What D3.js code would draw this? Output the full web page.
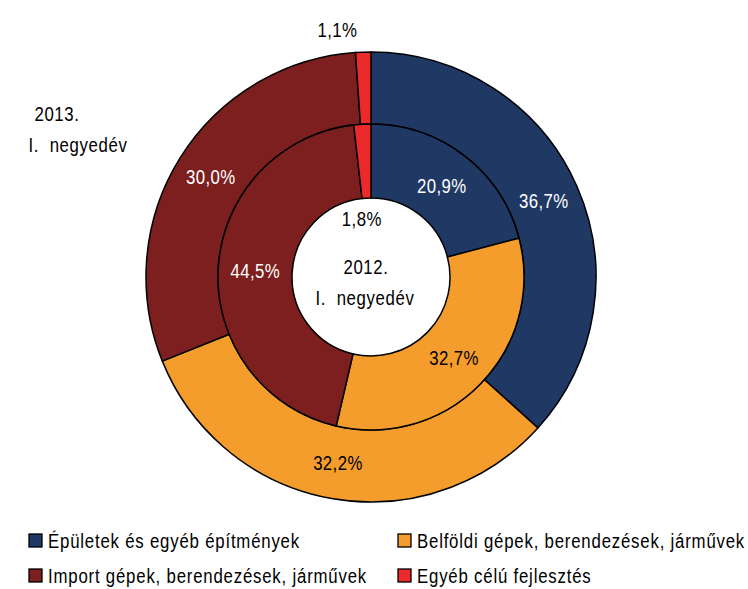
<!DOCTYPE html>
<html lang="hu">
<head>
<meta charset="utf-8">
<title>Beruházások összetétele</title>
<script type="text/javascript" src="https://d3js.org/d3.v7.min.js"></script>
<style>
body { margin: 0; background: #fff; }
text { font-family: "Liberation Sans", Arial, sans-serif; font-size: 21px; }
.arc path { stroke: #000; stroke-width: 1.5; }
</style>
</head>
<body>
<div id="chart"></div>
<script type="text/javascript">

var categories = ["Épületek és egyéb építmények", "Belföldi gépek, berendezések, járművek",
                  "Import gépek, berendezések, járművek", "Egyéb célú fejlesztés"];
var colors = ["#203864", "#F49C2C", "#7D1F1F", "#EC2A2C"];
var values2012 = [20.9, 32.7, 44.5, 1.8];
var values2013 = [36.7, 32.2, 30.0, 1.1];
var labelColors = ["#fff", "#000", "#fff", "#000"];

var width = 748, height = 589;
var cx = 371, cy = 277;
var rHole = 79, rMid = 153, rOuter = 225;
var narrow = 0.8; // Arial Narrow look: squeeze the glyphs horizontally

var svg = d3.select("#chart").append("svg")
    .attr("width", width)
    .attr("height", height);

var root = svg.append("g")
    .attr("transform", "translate(" + cx + "," + cy + ")");

var pie = d3.pie().sort(null).value(function(d) { return d; });
var fmt = function(v) { return d3.format(".1f")(v).replace(".", ",") + "%"; };

function place(x, y) {
    return "translate(" + x + "," + y + ") scale(" + narrow + ",1)";
}

function ring(values, r0, r1, smallRadius) {
    var arc = d3.arc().innerRadius(r0).outerRadius(r1);
    var arcs = pie(values);
    root.append("g").attr("class", "arc")
        .selectAll("path")
        .data(arcs)
        .enter().append("path")
            .attr("d", arc)
            .attr("fill", function(d, i) { return colors[i]; });
    var labelArc = d3.arc().innerRadius((r0 + r1) / 2).outerRadius((r0 + r1) / 2);
    root.append("g").selectAll("text")
        .data(arcs)
        .enter().append("text")
            .attr("transform", function(d, i) {
                var p;
                if (i == 3) {
                    var a = (d.startAngle + d.endAngle) / 2 - 0.1;
                    p = [smallRadius * Math.sin(a), -smallRadius * Math.cos(a)];
                } else {
                    p = labelArc.centroid(d);
                }
                return place(p[0], p[1]);
            })
            .attr("dy", "0.35em")
            .style("text-anchor", "middle")
            .style("letter-spacing", "0.5px")
            .attr("fill", function(d, i) { return labelColors[i]; })
            .text(function(d) { return fmt(d.data); });
}

ring(values2013, rMid, rOuter, 250);
ring(values2012, rHole, rMid, 59);

// year captions
var captions = [
    {lines: ["2013.", "I.  negyedév"], x: [57, 78], y: 114},
    {lines: ["2012.", "I.  negyedév"], x: [366, 365], y: 267}
];
captions.forEach(function(c) {
    c.lines.forEach(function(l, j) {
        svg.append("text")
            .attr("transform", place(c.x[j], c.y + j * 31))
            .attr("dy", "0.35em")
            .style("text-anchor", "middle")
            .style("white-space", "pre")
            .style("letter-spacing", "0.8px")
            .attr("fill", "#000")
            .text(l);
    });
});

// legend
var legendPos = [[29, 541], [398, 541], [29, 576], [398, 576]];
var legend = svg.append("g").selectAll("g")
    .data(categories)
    .enter().append("g")
        .attr("transform", function(d, i) { return "translate(" + legendPos[i][0] + "," + legendPos[i][1] + ")"; });
legend.append("rect")
    .attr("x", 0).attr("y", -7)
    .attr("width", 13).attr("height", 13)
    .attr("fill", function(d, i) { return colors[i]; })
    .attr("stroke", "#000")
    .attr("stroke-width", 1.3);
legend.append("text")
    .attr("transform", place(19, 0))
    .attr("dy", "0.35em")
    .style("letter-spacing", "1px")
    .attr("fill", "#000")
    .text(function(d) { return d; });

</script>
</body>
</html>
